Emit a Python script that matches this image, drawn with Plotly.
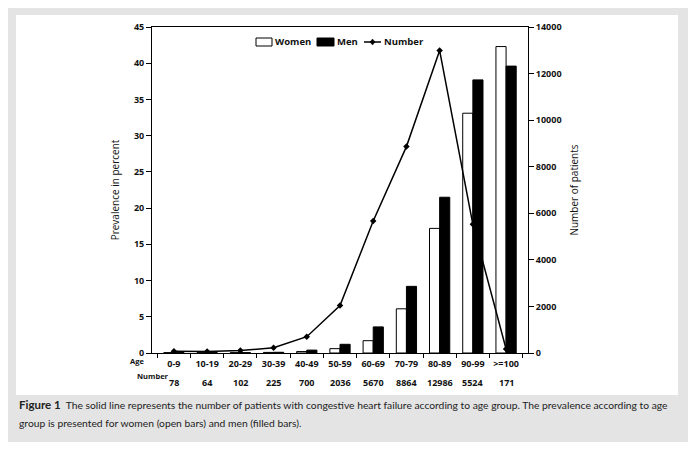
import plotly.graph_objects as go

# age groups and values
age_groups = ["0-9", "10-19", "20-29", "30-39", "40-49", "50-59",
              "60-69", "70-79", "80-89", "90-99", ">=100"]
women_pct = [0.05, 0.05, 0.05, 0.08, 0.2, 0.6, 1.7, 6.1, 17.2, 33.1, 42.3]
men_pct = [0.05, 0.05, 0.05, 0.1, 0.4, 1.2, 3.6, 9.2, 21.5, 37.7, 39.6]
patients = [78, 64, 102, 225, 700, 2036, 5670, 8864, 12986, 5524, 171]

TICK_FONT = dict(family="Open Sans", size=9, color="#111", weight="bold")

# the page body has an 8px margin, so the figure starts at (8, 8) on screen.
# helpers map screen pixels -> paper coords (plot area is x 152..528, y 27..353 on screen)
def px(x):
    return (x - 152) / 376

def py(y):
    return (353 - y) / 326

fig = go.Figure()

fig.add_trace(go.Bar(
    x=age_groups, y=women_pct, name="Women",
    marker=dict(color="white", line=dict(color="black", width=1)),
))
fig.add_trace(go.Bar(
    x=age_groups, y=men_pct, name="Men",
    marker=dict(color="black", line=dict(color="black", width=1)),
))
fig.add_trace(go.Scatter(
    x=age_groups, y=patients, name="Number", yaxis="y2",
    mode="lines+markers",
    line=dict(color="black", width=1.5),
    marker=dict(symbol="diamond", size=5, color="black"),
))

# number row under the age labels
for g, n in zip(age_groups, patients):
    fig.add_annotation(x=g, y=0, xref="x", yref="paper", yshift=-29,
                       text=str(n), showarrow=False, yanchor="middle",
                       font=TICK_FONT)

small_bold = dict(family="Open Sans", size=7.5, color="#111", weight="bold")
fig.add_annotation(x=px(129), y=py(367), xref="paper", yref="paper",
                   text="Age", showarrow=False, font=small_bold, borderpad=0)
fig.add_annotation(x=px(136), y=py(382), xref="paper", yref="paper",
                   text="Number", showarrow=False, font=small_bold, borderpad=0)

# legend drawn by hand (rectangular swatches like the original)
leg_font = dict(family="Open Sans", size=9.5, color="#111", weight="bold")
leg_y = py(42)
fig.add_shape(type="rect", xref="paper", yref="paper",
              x0=px(256), x1=px(272), y0=py(46), y1=py(38),
              fillcolor="white", line=dict(color="black", width=1))
fig.add_shape(type="rect", xref="paper", yref="paper",
              x0=px(317), x1=px(334), y0=py(46), y1=py(38),
              fillcolor="black", line=dict(color="black", width=1))
fig.add_shape(type="line", xref="paper", yref="paper",
              x0=px(364), x1=px(381), y0=leg_y, y1=leg_y,
              line=dict(color="black", width=1.5))
fig.add_shape(type="path", xref="paper", yref="paper",
              path=f"M {px(372.5)} {py(39)} L {px(375)} {leg_y} L {px(372.5)} {py(45)} L {px(370)} {leg_y} Z",
              fillcolor="black", line=dict(color="black", width=0.5))
for x0, label in [(273, "Women"), (335, "Men"), (382, "Number")]:
    fig.add_annotation(x=px(x0), y=leg_y, xref="paper", yref="paper",
                       xanchor="left", yanchor="middle", showarrow=False,
                       text=label, font=leg_font)

# caption
cap_font = dict(family="Lato", size=10.3, color="#222")
fig.add_annotation(x=px(17), y=py(413), xref="paper", yref="paper", xanchor="left",
                   showarrow=False, font=cap_font,
                   text="<b><span style='font-size:11.5px'>Figure 1</span></b>  The solid line represents the number of patients with congestive heart failure according to age group. The prevalence according to age")
fig.add_annotation(x=px(17), y=py(431), xref="paper", yref="paper", xanchor="left",
                   showarrow=False, font=cap_font,
                   text="group is presented for women (open bars) and men (filled bars).")

# gray frame and white panel
fig.add_shape(type="rect", xref="paper", yref="paper", layer="below",
              x0=px(4), x1=px(690), y0=py(443), y1=py(2),
              fillcolor="#e4e4e4", line=dict(width=0))
fig.add_shape(type="rect", xref="paper", yref="paper", layer="below",
              x0=px(16), x1=px(678), y0=py(395), y1=py(15),
              fillcolor="white", line=dict(width=0))

fig.update_layout(
    width=680, height=434,
    margin=dict(l=144, r=160, t=19, b=89, autoexpand=False),
    paper_bgcolor="white",
    plot_bgcolor="rgba(0,0,0,0)",
    showlegend=False,
    barmode="group", bargap=0.39, bargroupgap=0,
    xaxis=dict(
        showline=True, linecolor="black", linewidth=1, mirror=True,
        ticks="outside", tickson="boundaries", ticklen=4, tickcolor="black",
        tickfont=TICK_FONT, tickangle=0, ticklabelstandoff=2,
        showgrid=False, automargin=False,
    ),
    yaxis=dict(
        range=[0, 45], dtick=5,
        showline=True, linecolor="black", linewidth=1,
        ticks="outside", ticklen=5, tickcolor="black",
        tickfont=TICK_FONT, showgrid=False, zeroline=False, automargin=False,
        title=dict(text="Prevalence in percent", standoff=12,
                   font=dict(family="Open Sans", size=10, color="#111")),
    ),
    yaxis2=dict(
        range=[0, 14000], dtick=2000, tickformat="d", overlaying="y", side="right",
        showline=True, linecolor="black", linewidth=1,
        ticks="outside", ticklen=5, tickcolor="black",
        tickfont=TICK_FONT, showgrid=False, zeroline=False, automargin=False,
        title=dict(text="Number of patients", standoff=10,
                   font=dict(family="Open Sans", size=10, color="#111")),
    ),
)

fig.write_html("out.html")
